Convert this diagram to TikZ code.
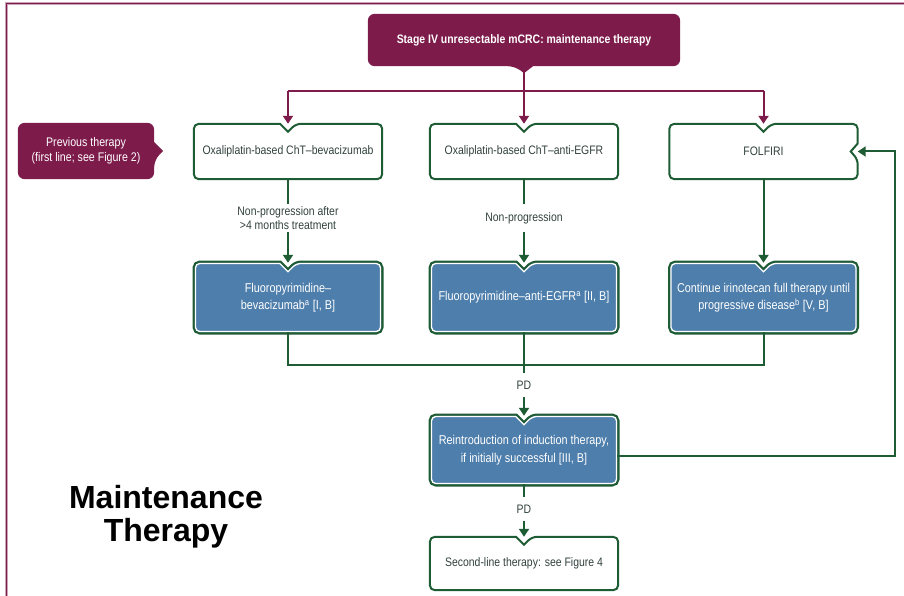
\documentclass[tikz,border=0pt]{standalone}
\usepackage{fontspec}
\setmainfont{Liberation Sans}[FakeStretch=0.85]
\newfontfamily\headfont{Liberation Sans}
\usetikzlibrary{arrows.meta,calc,backgrounds}

\definecolor{wine}{RGB}{125,27,75}
\definecolor{leaf}{RGB}{30,92,52}
\definecolor{steel}{RGB}{78,126,171}
\definecolor{ink}{RGB}{50,66,62}

% box outline with a V notch in the middle of the top edge
\newcommand\notchpath[1]{($(#1.north)+(-8,0)$) [rounded corners=5pt] -- (#1.north west) -- (#1.south west) -- (#1.south east) -- (#1.north east) -- ($(#1.north)+(8,0)$) [sharp corners] -- ($(#1.north)+(0,8)$) -- cycle}
% same, with a second notch on the right edge
\newcommand\sidenotchpath[1]{($(#1.north)+(-8,0)$) [rounded corners=5pt] -- (#1.north west) -- (#1.south west) -- (#1.south east) -- ($(#1.east)+(0,8)$) [sharp corners] -- ($(#1.east)+(-7,0)$) -- ($(#1.east)+(0,-8)$) [rounded corners=5pt] -- (#1.north east) -- ($(#1.north)+(8,0)$) [sharp corners] -- ($(#1.north)+(0,8)$) -- cycle}
% heading tab pointing down
\newcommand\headpath[1]{(#1.west) [rounded corners=7pt] -- (#1.south west) -- ($(#1.south)+(-9,0)$) [sharp corners] -- ($(#1.south)+(0,7)$) -- ($(#1.south)+(9,0)$) [rounded corners=7pt] -- (#1.south east) -- (#1.north east) -- (#1.north west) -- cycle}
% side tab pointing right
\newcommand\tabpath[1]{(#1.north) [rounded corners=7pt] -- (#1.north west) -- (#1.south west) -- (#1.south east) -- ($(#1.east)+(0,9)$) [sharp corners] -- ($(#1.east)+(9,0)$) -- ($(#1.east)+(0,-9)$) [rounded corners=7pt] -- (#1.north east) -- cycle}

\begin{document}
\begin{tikzpicture}[x=1pt,y=-1pt,
  every node/.style={font=\fontsize{12.3}{14}\selectfont, align=center, inner sep=0pt},
  plainbox/.style={text=ink, minimum width=188, minimum height=55},
  bluebox/.style={text=white, minimum width=186, minimum height=69, font=\fontsize{12.8}{17.5}\selectfont},
  tag/.style={text=ink, minimum height=28},
  pdtag/.style={text=ink, minimum height=24},
  link/.style={leaf, line width=2pt},
  arr/.style={link, -{Triangle[length=8pt,width=10pt]}},
  wlink/.style={wine, line width=2pt},
  warr/.style={wlink, -{Triangle[length=8pt,width=10pt]}}]

\useasboundingbox (0,0) rectangle (904,596);

% page frame
\draw[wine!40, line width=3.5pt] (6.5,596) -- (6.5,3.5) -- (904,3.5);
\draw[wine, line width=1.6pt] (6.5,596) -- (6.5,3.5) -- (904,3.5);

% nodes
\node[text=white, minimum width=312, minimum height=52] (head) at (524,40)
  {\bfseries Stage IV unresectable mCRC: maintenance therapy};
\node[text=white, minimum width=136, minimum height=56, font=\fontsize{12.5}{15}\selectfont] (prev) at (86,151)
  {Previous therapy\\(first line; see Figure 2)};

\node[plainbox] (ox1) at (288,151.5) {Oxaliplatin-based ChT–bevacizumab};
\node[plainbox] (ox2) at (524,151.5) {Oxaliplatin-based ChT–anti-EGFR};
\node[plainbox] (ox3) at (763.5,151.5) {FOLFIRI};

\node[tag] (np1) at (288,218) {Non-progression after\\>4 months treatment};
\node[tag] (np2) at (524,218) {Non-progression};

\node[bluebox] (fp1) at (288,297.5) {Fluoropyrimidine–\\bevacizumab\textsuperscript{a} [I, B]};
\node[bluebox] (fp2) at (524,297.5) {Fluoropyrimidine–anti-EGFR\textsuperscript{a} [II, B]};
\node[bluebox] (fp3) at (763.5,297.5) {Continue irinotecan full therapy until\\progressive disease\textsuperscript{b} [V, B]};

\node[pdtag] (pd1) at (524,385) {PD};
\node[bluebox, minimum height=68] (re) at (524,450)
  {Reintroduction of induction therapy,\\if initially successful [III, B]};
\node[pdtag] (pd2) at (524,509) {PD};
\node[plainbox, minimum height=53] (sl) at (524,563.5) {Second-line therapy: see Figure 4};

\node[text=black, font=\headfont\bfseries\fontsize{32}{33}\selectfont] (mt) at (166,517)
  {Maintenance\\Therapy};

% box shapes
\begin{scope}[on background layer]
  \fill[wine] \headpath{head};
  \fill[wine] \tabpath{prev};
  \foreach \b in {ox1,ox2,sl}{\draw[leaf, line width=2pt, fill=white] \notchpath{\b};}
  \draw[leaf, line width=2pt, fill=white] \sidenotchpath{ox3};
  \foreach \b in {fp1,fp2,fp3,re}{
    \draw[leaf, line width=4.6pt] \notchpath{\b};
    \fill[steel] \notchpath{\b};
    \begin{scope}
      \clip \notchpath{\b};
      \draw[white, line width=2.6pt] \notchpath{\b};
    \end{scope}
  }
\end{scope}

% connectors
\coordinate (split) at (524,91);
\draw[wlink] (head.south) -- (split);
\draw[wlink] (ox1.north |- split) -- (ox3.north |- split);
\foreach \b in {ox1,ox2,ox3}{\draw[warr] (\b.north |- split) -- (\b.north);}

\draw[link] (ox1) -- (np1);
\draw[arr] (np1) -- (fp1);
\draw[link] (ox2) -- (np2);
\draw[arr] (np2) -- (fp2);
\draw[arr] (ox3) -- (fp3);

\coordinate (merge) at (524,365);
\draw[link] (fp1.south) |- (merge) -| (fp3.south);
\draw[link] (fp2) -- (pd1);
\draw[arr] (pd1) -- (re);
\draw[link] (re) -- (pd2);
\draw[arr] (pd2) -- (sl);

\coordinate (back) at (895,456);
\draw[arr] (re.east |- back) -- (back) |- (ox3.east);
\end{tikzpicture}
\end{document}
